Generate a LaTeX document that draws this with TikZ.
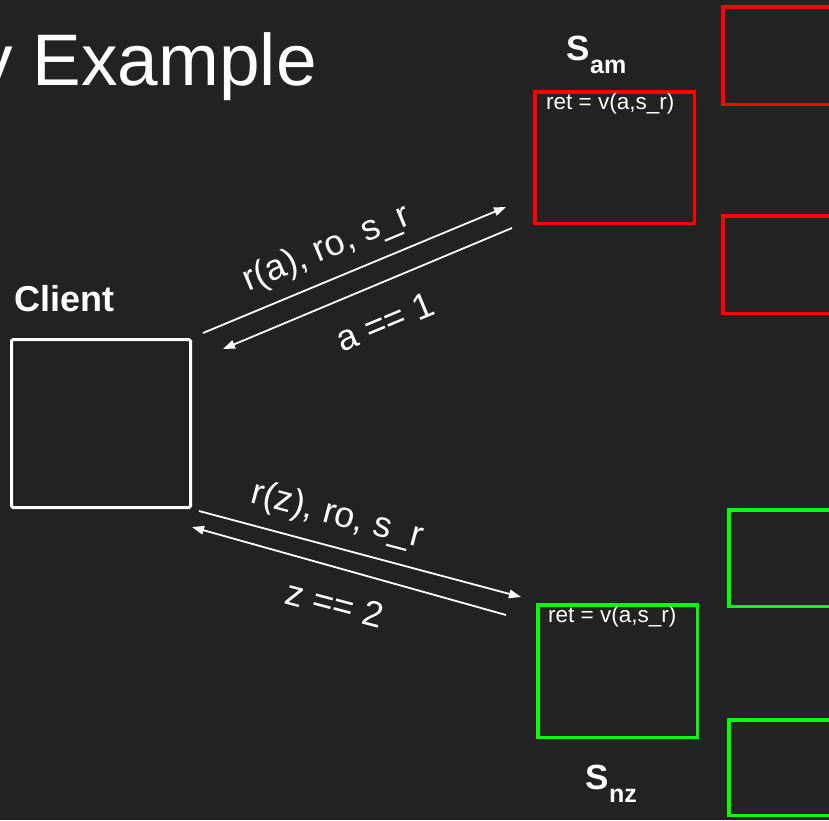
\documentclass[tikz,border=0pt]{standalone}
\usepackage{fontspec}
\setmainfont{Liberation Sans}
\usetikzlibrary{arrows.meta}
\definecolor{bg}{HTML}{222222}
\definecolor{sred}{HTML}{FF0000}
\definecolor{sgreen}{HTML}{00FF00}
\newcommand{\fsz}[1]{\fontsize{#1}{#1}\selectfont}
\begin{document}
\begin{tikzpicture}[x=1pt,y=-1pt,
  box/.style={draw, line width=3.5pt, inner sep=0pt, outer sep=0pt, anchor=north west},
  redbox/.style={box, draw=sred},
  greenbox/.style={box, draw=sgreen},
  clientbox/.style={box, draw=white, line width=3pt, rounded corners=1.5pt},
  lbl/.style={text=white, inner sep=0pt},
  msg/.style={white, line width=1.8pt, -{Triangle[length=12pt,width=8.5pt]}}
]
\fill[bg] (0,0) rectangle (829,820);
\useasboundingbox (0,0) rectangle (829,820);
\clip (0,0) rectangle (829,820);

% title
\node[lbl, anchor=base east] (title) at (317,85) {\fsz{73}y Example};

% client
\node[lbl, anchor=base west] (clientlbl) at (14,311) {\fsz{36}\bfseries Client};
\node[clientbox, minimum width=179pt, minimum height=168pt] (client) at (11.5,339.5) {};

% server am
\node[redbox, minimum width=159.5pt, minimum height=131.5pt] (sam) at (534.75,91.75) {};
\node[lbl, anchor=base west] (samret) at (546,109) {\fsz{22.5}ret = v(a,s\_r)};
\node[lbl, anchor=base west] (samS) at (566,60) {\fsz{35}\bfseries S};
\node[lbl, anchor=base west] (samsub) at (590,73) {\fsz{25}\bfseries am};
\node[redbox, minimum width=200pt, minimum height=97.5pt] (r1) at (722.75,6.75) {};
\node[redbox, minimum width=200pt, minimum height=97.5pt] (r2) at (722.75,215.75) {};

% server nz
\node[greenbox, minimum width=159.5pt, minimum height=132.5pt] (snz) at (537.75,604.75) {};
\node[lbl, anchor=base west] (snzret) at (548,622) {\fsz{22.5}ret = v(a,s\_r)};
\node[lbl, anchor=base west] (snzS) at (585,789) {\fsz{35}\bfseries S};
\node[lbl, anchor=base west] (snzsub) at (609,802) {\fsz{25}\bfseries nz};
\node[greenbox, minimum width=200pt, minimum height=96.5pt] (g1) at (728.75,509.75) {};
\node[greenbox, minimum width=200pt, minimum height=95.5pt] (g2) at (728.75,719.75) {};

% arrow end points
\coordinate (a1s) at (203,333);
\coordinate (a1e) at (506,207);
\coordinate (a2s) at (512,228);
\coordinate (a2e) at (223,349);
\coordinate (a3s) at (199,511);
\coordinate (a3e) at (521,597);
\coordinate (a4s) at (506,615);
\coordinate (a4e) at (192,527);

\draw[msg] (a1s) -- (a1e);
\draw[msg] (a2s) -- (a2e);
\draw[msg] (a3s) -- (a3e);
\draw[msg] (a4s) -- (a4e);

% message labels
\node[lbl, rotate=22.6] (m1) at (327,249) {\fsz{36}r(a), ro, s\_r};
\node[lbl, rotate=22.6] (m2) at (385,322) {\fsz{36}a == 1};
\node[lbl, rotate=-14.8] (m3) at (337,516) {\fsz{36}r(z), ro, s\_r};
\node[lbl, rotate=-14.8] (m4) at (335,604) {\fsz{36}z == 2};
\end{tikzpicture}
\end{document}
